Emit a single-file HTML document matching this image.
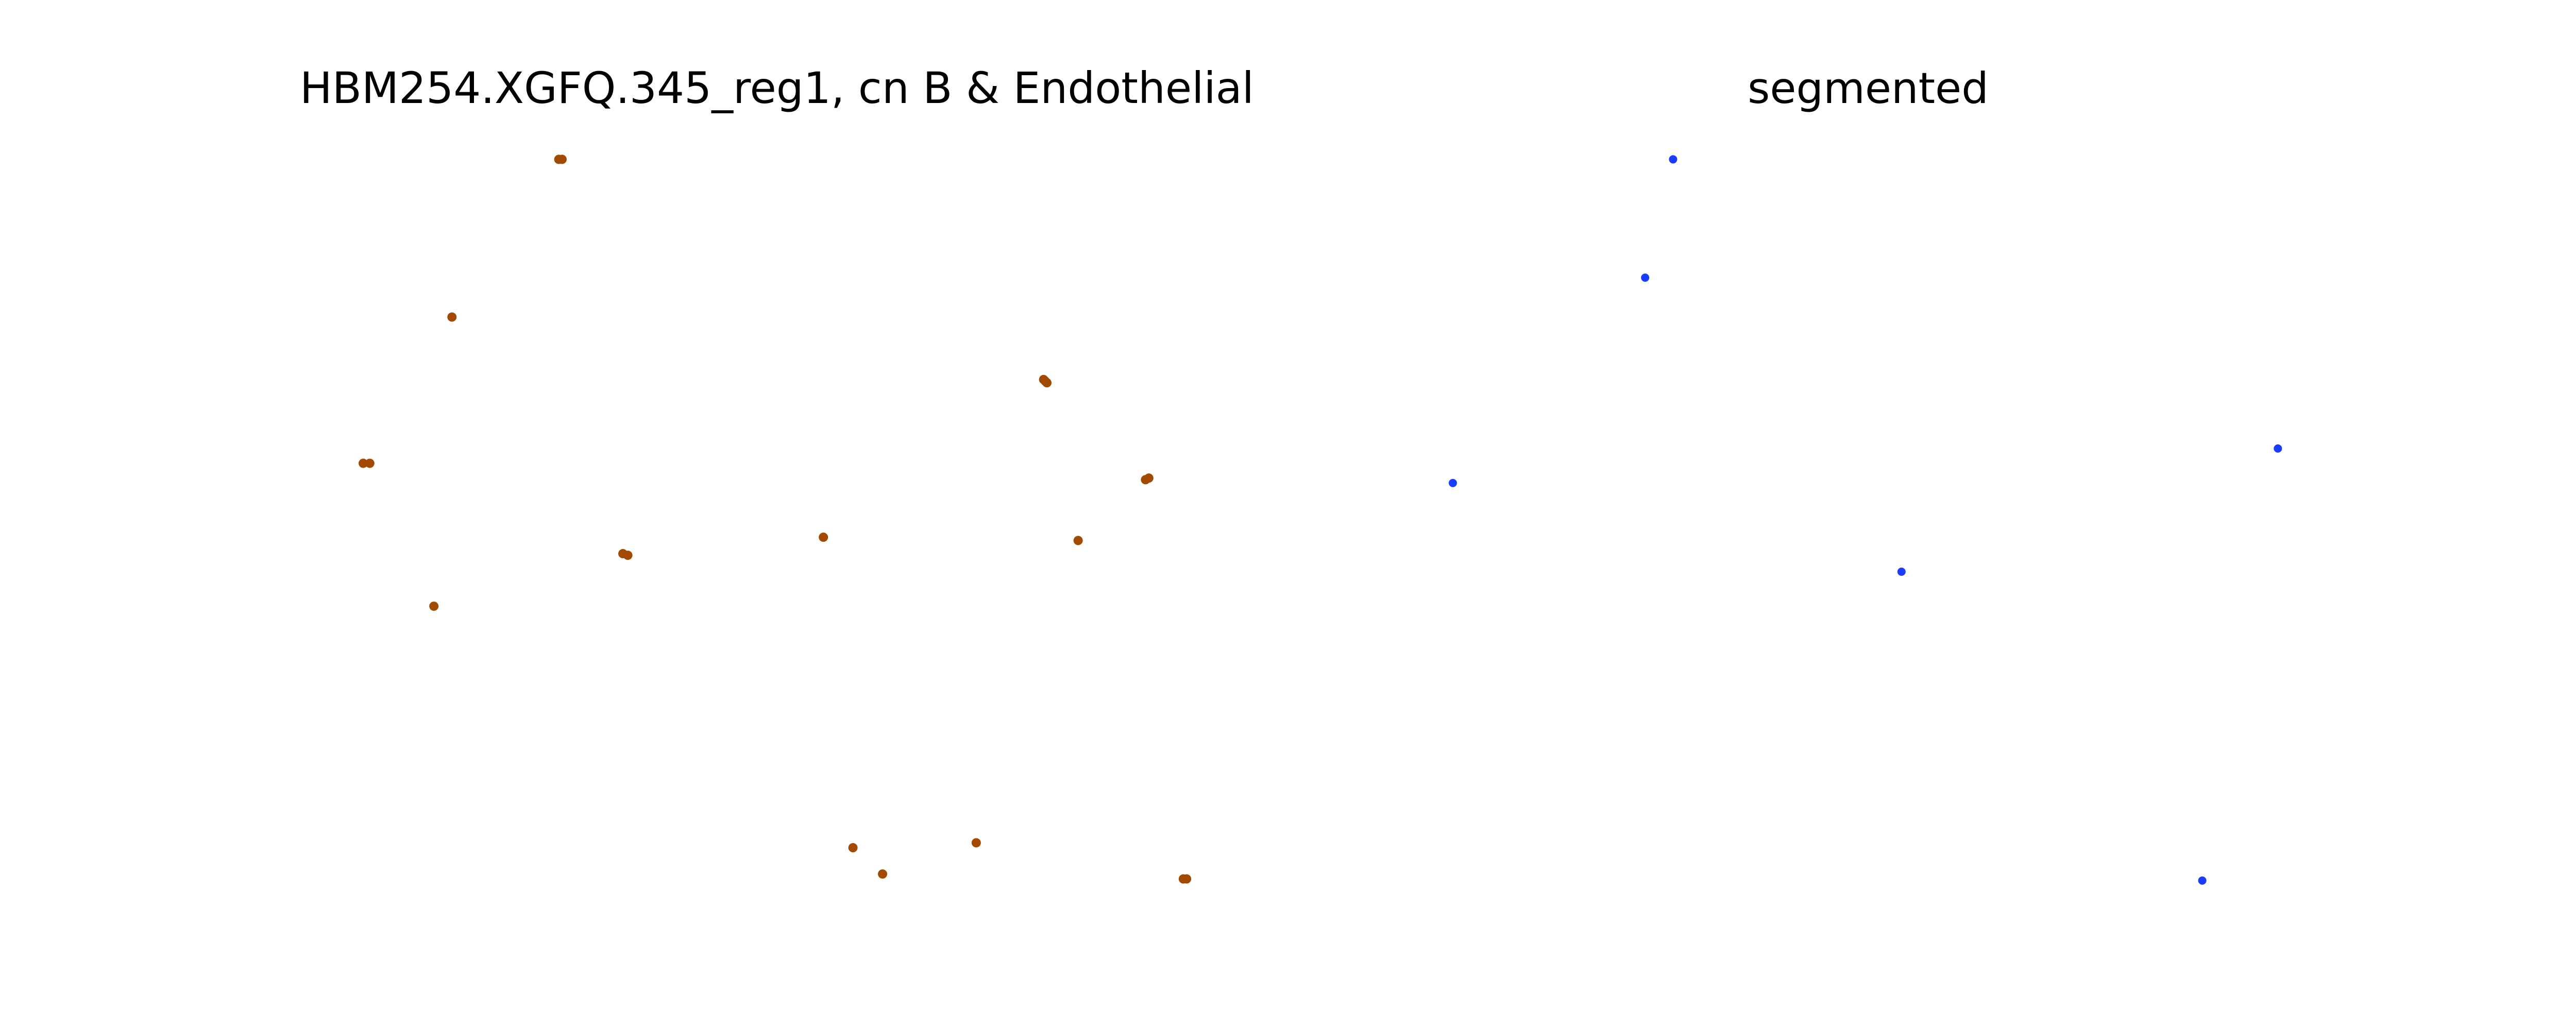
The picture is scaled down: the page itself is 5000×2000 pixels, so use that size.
<!DOCTYPE html>
<html><head><meta charset="utf-8"><style>
html,body{margin:0;padding:0;background:#fff}
svg{display:block}
text{font-family:"DejaVu Sans","Liberation Sans",sans-serif;fill:#000}
</style></head><body>
<svg id="fig" width="5000" height="2000" viewBox="0 0 5000 2000">
<text x="1508" y="200" font-size="84" text-anchor="middle" textLength="1852" lengthAdjust="spacingAndGlyphs">HBM254.XGFQ.345_reg1, cn B &amp; Endothelial</text>
<text x="3626" y="200" font-size="83" text-anchor="middle">segmented</text>
<g id="left"></g>
<g id="right"></g>
</svg>
<script>
const leftX=[340,342,275,635,637,636,221,225,697,699,379,382,501,656,264,519,537,594,720,722];
const leftY=[97,97,193,231,233,232,282,282,292,291,337,338,327,329,369,516,532,513,535,535];
const rightX=[1018,1001,884,1386,1157,1340];
const rightY=[97,169,294,273,348,536];
const K=3.19;
function sx(v){return v*K;}
function sy(v){return v*K;}
const NS="http://www.w3.org/2000/svg";
function draw(gid,xs,ys,color,r,name){
  const g=document.getElementById(gid);
  for(let i=0;i<xs.length;i++){
    const c=document.createElementNS(NS,"circle");
    c.setAttribute("cx",sx(xs[i]));
    c.setAttribute("cy",sy(ys[i]));
    c.setAttribute("r",r);
    c.setAttribute("fill",color);
    
    
    g.appendChild(c);
  }
}
draw("left",leftX,leftY,"#a24a00",9,"endothelial-cell-point");
draw("right",rightX,rightY,"#1a3cff",8,"segmented-cell-point");
</script>
</body></html>
